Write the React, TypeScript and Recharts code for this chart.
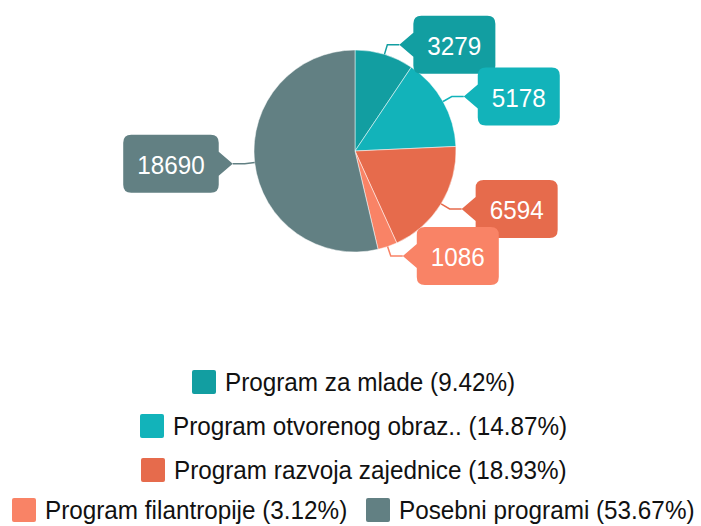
import React from "react";
import { PieChart, Pie, Cell, Legend } from "recharts";

const categories = [
  "Program za mlade",
  "Program otvorenog obraz..",
  "Program razvoja zajednice",
  "Program filantropije",
  "Posebni programi",
];
const values = [3279, 5178, 6594, 1086, 18690];
const percentLabels = ["9.42%", "14.87%", "18.93%", "3.12%", "53.67%"];
const colors = ["#129ea1", "#12b3ba", "#e66b4c", "#f98366", "#628083"];
const legendRows = [[0], [1], [2], [3, 4]];

const data = categories.map((name, i) => ({ name, value: values[i] }));

const FONT = '"Liberation Sans", Arial, sans-serif';
const FS = 26.4;
const SX = 0.92;
const RAD = Math.PI / 180;

let ctx: CanvasRenderingContext2D | null = null;
const measure = (s: string) => {
  if (!ctx) {
    const c = document.createElement("canvas");
    ctx = c.getContext("2d");
  }
  if (!ctx) return s.length * FS * 0.55;
  ctx.font = `${FS}px ${FONT}`;
  return ctx.measureText(s).width;
};

const renderLabel = (props: any) => {
  const { cx, cy, midAngle, outerRadius, value, index } = props;
  const color = colors[index];
  const cos = Math.cos(-midAngle * RAD);
  const sin = Math.sin(-midAngle * RAD);
  const px = cx + outerRadius * cos;
  const py = cy + outerRadius * sin;
  const ex = cx + (outerRadius + 10) * cos;
  const ey = cy + (outerRadius + 10) * sin;
  const right = cos >= 0;
  const hx = ex + (right ? 12 : -12);
  const text = String(value);
  const w = measure(text) * SX + 28;
  const h = 58;
  const r = 8;
  const notch = 14;
  const nh = 12;
  const top = ey - h / 2;
  const bottom = ey + h / 2;
  let d: string;
  let left: number;
  if (right) {
    left = hx + notch;
    const rt = left + w;
    d = `M${left + r},${top} L${rt - r},${top} Q${rt},${top} ${rt},${top + r} L${rt},${bottom - r} Q${rt},${bottom} ${rt - r},${bottom} L${left + r},${bottom} Q${left},${bottom} ${left},${bottom - r} L${left},${ey + nh} L${hx},${ey} L${left},${ey - nh} L${left},${top + r} Q${left},${top} ${left + r},${top} Z`;
  } else {
    const rt = hx - notch;
    left = rt - w;
    d = `M${left + r},${top} L${rt - r},${top} Q${rt},${top} ${rt},${top + r} L${rt},${ey - nh} L${hx},${ey} L${rt},${ey + nh} L${rt},${bottom - r} Q${rt},${bottom} ${rt - r},${bottom} L${left + r},${bottom} Q${left},${bottom} ${left},${bottom - r} L${left},${top + r} Q${left},${top} ${left + r},${top} Z`;
  }
  return (
    <g key={`lbl-${index}`}>
      <polyline
        points={`${px},${py} ${ex},${ey} ${hx},${ey}`}
        fill="none"
        stroke={color}
        strokeWidth={1.5}
      />
      <path d={d} fill={color} />
      <text
        transform={`translate(${left + w / 2},${ey + 1}) scale(${SX},1)`}
        x={0}
        y={0}
        fill="#fff"
        fontSize={FS}
        fontFamily={FONT}
        textAnchor="middle"
        dominantBaseline="central"
      >
        {text}
      </text>
    </g>
  );
};

const renderLegend = () => (
  <div style={{ width: 701, fontFamily: FONT }}>
    {legendRows.map((row, ri) => (
      <div
        key={ri}
        style={{
          height: ri === legendRows.length - 1 ? 36 : 44,
          display: "flex",
          justifyContent: "center",
          alignItems: "center",
          paddingLeft: 6,
        }}
      >
        {row.map((i, k) => {
          const label = `${categories[i]} (${percentLabels[i]})`;
          const tw = measure(label) * SX;
          return (
            <div
              key={i}
              style={{
                display: "flex",
                alignItems: "center",
                marginLeft: k > 0 ? 19 : 0,
              }}
            >
              <div
                style={{
                  width: 24,
                  height: 24,
                  borderRadius: 2,
                  background: colors[i],
                  marginRight: 9,
                }}
              />
              <div style={{ width: tw, height: 24, position: "relative" }}>
                <span
                  style={{
                    position: "absolute",
                    left: 0,
                    top: 0,
                    height: 24,
                    lineHeight: "24px",
                    fontSize: FS,
                    color: "#111",
                    whiteSpace: "nowrap",
                    transform: `scaleX(${SX})`,
                    transformOrigin: "left center",
                  }}
                >
                  {label}
                </span>
              </div>
            </div>
          );
        })}
      </div>
    ))}
  </div>
);

export default function App() {
  return (
    <div style={{ position: "absolute", left: 0, top: 0, background: "#fff" }}>
      <PieChart width={701} height={526} margin={{ top: 0, right: 0, bottom: 0, left: 0 }}>
        <Pie
          data={data}
          dataKey="value"
          nameKey="name"
          cx={355}
          cy={151}
          outerRadius={101}
          startAngle={90}
          endAngle={-270}
          label={renderLabel}
          labelLine={false}
          isAnimationActive={false}
          stroke="#ffffff"
          strokeWidth={0.5}
        >
          {data.map((_, i) => (
            <Cell key={i} fill={colors[i]} />
          ))}
        </Pie>
        <Legend
          content={renderLegend}
          wrapperStyle={{ position: "absolute", left: 0, top: 360, width: 701 }}
        />
      </PieChart>
    </div>
  );
}
